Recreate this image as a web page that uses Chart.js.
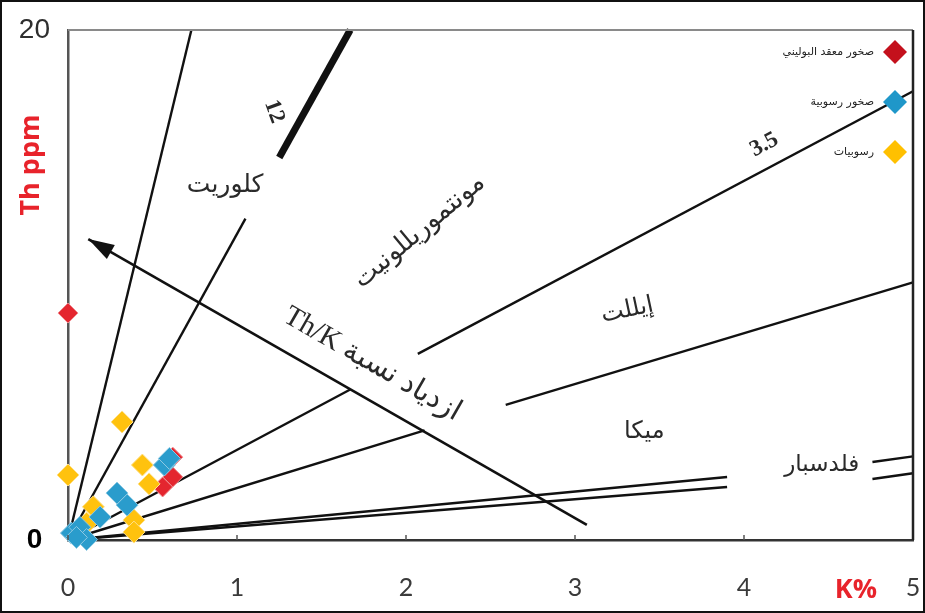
<!DOCTYPE html>
<html>
<head>
<meta charset="utf-8">
<script src="https://cdn.jsdelivr.net/npm/chart.js@4.4.1/dist/chart.umd.min.js"></script>
<style>
    html, body { margin: 0; padding: 0; background: #fff; }
    #wrap { width: 925px; height: 613px; position: relative; }
</style>
</head>
<body>
<div id="wrap"><canvas id="chartCanvas"></canvas></div>
<script>
// axis ticks
const kTicks = [0, 1, 2, 3, 4, 5];
const thTicks = [0, 20];

// samples (K %, Th ppm)
const redK = [0, 0.62, 0.62, 0.56];
const redTh = [8.9, 3.25, 2.47, 2.08];
const blueK = [0.57, 0.6, 0.29, 0.35, 0.19, 0.02, 0.07, 0.11, 0.05];
const blueTh = [2.94, 3.2, 1.84, 1.37, 0.9, 0.27, 0.5, 0.02, 0.1];
const yellowK = [0, 0.32, 0.44, 0.48, 0.15, 0.11, 0.39, 0.39];
const yellowTh = [2.55, 4.63, 2.94, 2.2, 1.3, 0.66, 0.78, 0.31];

// Th/K ratio lines, as [K, Th] end points
const line28 = [[0, 0], [0.73, 20]];
const line12 = [[0, 0], [1.05, 12.6]];
const line12Thick = [[1.25, 15], [1.67, 20]];
const line35a = [[0, 0], [1.67, 5.9]];
const line35b = [[2.07, 7.3], [5, 17.6]];
const line2a = [[0, 0], [2.11, 4.3]];
const line2b = [[2.59, 5.3], [5, 10.1]];
const line063 = [[0, 0], [3.9, 2.47]];
const line053 = [[0, 0], [3.9, 2.08]];
const lineFeld1 = [[4.76, 3.06], [5, 3.28]];
const lineFeld2 = [[4.76, 2.39], [5, 2.62]];
const arrowLine = [[3.07, 0.59], [0.12, 11.8]];

const seriesNames = ["صخور معقد البوليني", "صخور رسوبية", "رسوبيات"];

function pts(ks, ths) {
    return ks.map((k, i) => ({ x: k, y: ths[i] }));
}
function seg(pairs) {
    return pairs.map(p => ({ x: p[0], y: p[1] }));
}

function lineSet(pairs, width) {
    return {
        data: seg(pairs),
        showLine: true,
        borderColor: "#111",
        borderWidth: width || 2.4,
        pointRadius: 0,
        order: 10,
        clip: false
    };
}

const labels = [
    { text: "كلوريت", x: 0.93, y: 13.9, rot: 0, font: "25px 'DejaVu Sans'" },
    { text: "12", x: 1.22, y: 16.8, rot: 70, font: "bold 23px 'Liberation Serif'" },
    { text: "3.5", x: 4.12, y: 15.5, rot: -28, font: "bold 23px 'Liberation Serif'" },
    { text: "مونتموريللونيت", x: 2.08, y: 12.1, rot: -40, font: "26px 'DejaVu Sans'" },
    { text: "إيللت", x: 3.31, y: 9.0, rot: -12, font: "24px 'DejaVu Sans'" },
    { text: "ازدياد نسبة Th/K", x: 1.8, y: 6.9, rot: 30, font: "29px 'Liberation Serif'" },
    { text: "ميكا", x: 3.41, y: 4.24, rot: 0, font: "24px 'DejaVu Sans'" },
    { text: "فلدسبار", x: 4.46, y: 2.94, rot: 0, font: "23px 'DejaVu Sans'" }
];

const legendColors = ["#c4101c", "#1f97c9", "#ffc000"];

const extrasPlugin = {
    id: "extras",
    afterDatasetsDraw(chart) {
        const c = chart.ctx;
        const xs = chart.scales.x, ys = chart.scales.y;
        const a = chart.chartArea;

        // arrow head
        const tip = arrowLine[1], tail = arrowLine[0];
        const tx = xs.getPixelForValue(tip[0]), ty = ys.getPixelForValue(tip[1]);
        const bx = xs.getPixelForValue(tail[0]), by = ys.getPixelForValue(tail[1]);
        const ang = Math.atan2(ty - by, tx - bx);
        c.save();
        c.fillStyle = "#111";
        c.translate(tx, ty);
        c.rotate(ang);
        c.beginPath();
        c.moveTo(0, 0);
        c.lineTo(-26, -8);
        c.lineTo(-26, 8);
        c.closePath();
        c.fill();
        c.restore();

        // region labels
        labels.forEach(l => {
            c.save();
            c.translate(xs.getPixelForValue(l.x), ys.getPixelForValue(l.y));
            c.rotate(l.rot * Math.PI / 180);
            c.font = l.font;
            c.fillStyle = "#2a2a2a";
            c.textAlign = "center";
            c.textBaseline = "middle";
            c.direction = "rtl";
            c.fillText(l.text, 0, 0);
            c.restore();
        });

        // small ticks on K axis
        c.save();
        c.strokeStyle = "#555";
        c.lineWidth = 1.5;
        kTicks.forEach(v => {
            const px = xs.getPixelForValue(v);
            c.beginPath();
            c.moveTo(px, a.bottom);
            c.lineTo(px, a.bottom - 5);
            c.stroke();
        });
        c.restore();

        // frame of plot
        c.save();
        c.strokeStyle = "#8a8a8a";
        c.lineWidth = 2;
        c.beginPath();
        c.moveTo(a.left, a.top);
        c.lineTo(a.right, a.top);
        c.stroke();
        c.strokeStyle = "#222";
        c.lineWidth = 2.5;
        c.beginPath();
        c.moveTo(a.right, a.top);
        c.lineTo(a.right, a.bottom);
        c.stroke();
        c.restore();

        // legend
        seriesNames.forEach((name, i) => {
            const cy = 52 + i * 50;
            const cx = 895;
            c.save();
            c.fillStyle = legendColors[i];
            c.beginPath();
            c.moveTo(cx, cy - 12);
            c.lineTo(cx + 12, cy);
            c.lineTo(cx, cy + 12);
            c.lineTo(cx - 12, cy);
            c.closePath();
            c.fill();
            c.font = "11px 'DejaVu Sans'";
            c.fillStyle = "#222";
            c.textAlign = "right";
            c.textBaseline = "middle";
            c.direction = "rtl";
            c.fillText(name, 874, cy);
            c.restore();
        });

        // axis titles
        c.save();
        c.fillStyle = "#e8232b";
        c.font = "bold 27px 'Open Sans'";
        c.textAlign = "center";
        c.textBaseline = "middle";
        c.fillText("K%", 856, 590);
        c.translate(31, 165);
        c.rotate(-Math.PI / 2);
        c.fillText("Th ppm", 0, 0);
        c.restore();

        // outer frame
        c.save();
        c.strokeStyle = "#111";
        c.lineWidth = 2;
        c.strokeRect(1, 1, chart.width - 2, chart.height - 2);
        c.restore();
    }
};

const isZero = c => c.tick && c.tick.value === 0;

const ctx = document.getElementById("chartCanvas").getContext("2d");

new Chart(ctx, {
    type: "scatter",
    data: {
        datasets: [
            {
                label: seriesNames[0],
                data: pts(redK, redTh),
                pointStyle: "rectRot",
                pointRadius: 10,
                backgroundColor: "#e4262f",
                borderColor: "#f08a8f",
                borderWidth: 1,
                order: 3,
                clip: false
            },
            {
                label: seriesNames[2],
                data: pts(yellowK, yellowTh),
                pointStyle: "rectRot",
                pointRadius: 11,
                backgroundColor: "#ffc20e",
                borderColor: "#ffe08a",
                borderWidth: 1,
                order: 2,
                clip: false
            },
            {
                label: seriesNames[1],
                data: pts(blueK, blueTh),
                pointStyle: "rectRot",
                pointRadius: 11,
                backgroundColor: "#2a9ccc",
                borderColor: "#8cc8e2",
                borderWidth: 1,
                order: 1,
                clip: false
            },
            lineSet(line28),
            lineSet(line12),
            lineSet(line12Thick, 7),
            lineSet(line35a),
            lineSet(line35b),
            lineSet(line2a),
            lineSet(line2b),
            lineSet(line063),
            lineSet(line053),
            lineSet(lineFeld1),
            lineSet(lineFeld2),
            lineSet(arrowLine, 2.6)
        ]
    },
    options: {
        responsive: true,
        maintainAspectRatio: false,
        animation: false,
        layout: { padding: { left: 0, top: 30, right: 9, bottom: 0 } },
        plugins: {
            legend: { display: false },
            tooltip: { enabled: false }
        },
        scales: {
            x: {
                type: "linear",
                min: 0,
                max: 5,
                afterBuildTicks: s => { s.ticks = kTicks.map(v => ({ value: v })); },
                afterFit: s => { s.height = 73; s.paddingLeft = 0; s.paddingRight = 0; },
                grid: { display: false },
                border: { display: true, color: "#333", width: 2.5 },
                ticks: {
                    padding: 25,
                    color: "#3a3a3a",
                    font: { family: "Lato", size: 25 }
                }
            },
            y: {
                type: "linear",
                min: 0,
                max: 20,
                afterBuildTicks: s => { s.ticks = thTicks.map(v => ({ value: v })); },
                afterFit: s => { s.width = 68; s.paddingTop = 0; s.paddingBottom = 0; },
                grid: { display: false },
                border: { display: true, color: "#555", width: 2.5 },
                ticks: {
                    crossAlign: "center",
                    padding: 10,
                    color: c => isZero(c) ? "#000" : "#2e2e2e",
                    font: c => isZero(c)
                        ? { family: "Liberation Sans", size: 28, weight: "bold" }
                        : { family: "Liberation Sans", size: 28 }
                }
            }
        }
    },
    plugins: [extrasPlugin]
});
</script>
</body>
</html>
